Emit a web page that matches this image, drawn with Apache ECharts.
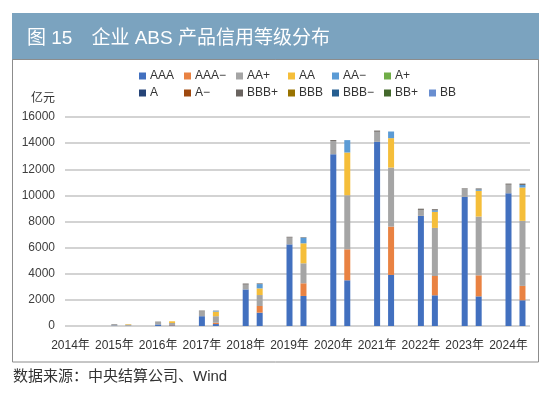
<!DOCTYPE html>
<html><head><meta charset="utf-8">
<script src="https://cdn.jsdelivr.net/npm/echarts@6/dist/echarts.min.js"></script>
<style>html,body{margin:0;padding:0;background:#fff}#c{width:550px;height:395px}</style>
</head><body><div id="c"></div>
<script>
// ---- data ----
const years = ['2014年','2015年','2016年','2017年','2018年','2019年','2020年','2021年','2022年','2023年','2024年'];
const ratings = ['AAA','AAA−','AA+','AA','AA−','A+','A','A−','BBB+','BBB','BBB−','BB+','BB'];
const yMin = 0, yMax = 16000, yStep = 2000;
const unitLabel = '亿元';
const titleText = '图 15　企业 ABS 产品信用等级分布';
const sourceText = '数据来源：中央结算公司、Wind';

// left bar of each year
const aaaL     = [0, 30, 120, 750, 2800, 6250, 13150, 14100, 8430, 9880, 10160];
const aaPlusL  = [0, 120, 200, 370, 370, 520, 1020, 770, 460, 620, 660];
const bbbPlusL = [0, 0, 20, 60, 80, 60, 70, 90, 90, 40, 80];
// right bar of each year
const aaaR     = [0, 20, 50, 150, 1020, 2300, 3500, 3910, 2350, 2270, 1970];
const aaaMinusR= [0, 0, 30, 100, 510, 970, 2370, 3700, 1480, 1610, 1100];
const aaPlusR  = [0, 90, 150, 500, 840, 1530, 4140, 4520, 3680, 4500, 4980];
const aaR      = [0, 40, 130, 350, 510, 1530, 3270, 2250, 1230, 1970, 2550];
const aaMinusR = [0, 0, 0, 60, 330, 430, 950, 510, 120, 100, 200];
const bbbPlusR = [0, 0, 0, 20, 50, 40, 0, 0, 80, 80, 100];
const zeros    = [0, 0, 0, 0, 0, 0, 0, 0, 0, 0, 0];

const leftByRating  = [aaaL, zeros, aaPlusL, zeros, zeros, zeros, zeros, zeros, bbbPlusL, zeros, zeros, zeros, zeros];
const rightByRating = [aaaR, aaaMinusR, aaPlusR, aaR, aaMinusR, zeros, zeros, zeros, bbbPlusR, zeros, zeros, zeros, zeros];

// ---- style ----
const colors = ['#4270BF','#E98242','#A5A5A5','#F5BE3A','#5B9BD5','#70AD47','#264478','#9E480E','#6A6460','#997300','#255E91','#43682B','#698ED0'];
const FONT = "'Liberation Sans','Noto Sans CJK SC',sans-serif";

const chart = echarts.init(document.getElementById('c'), null, {renderer:'canvas'});

const series = [{
  name: '_pad', type: 'bar', stack: 'pad', xAxisIndex: 0, yAxisIndex: 0,
  barWidth: 6, barGap: '133%', data: []
}];
ratings.forEach((r, i) => {
  series.push({
    name: r, type: 'bar', stack: 'left', xAxisIndex: 0, yAxisIndex: 0,
    barWidth: 6, barGap: '133%', itemStyle: {color: colors[i]},
    data: leftByRating[i]
  });
});
ratings.forEach((r, i) => {
  series.push({
    name: r, type: 'bar', stack: 'right', xAxisIndex: 0, yAxisIndex: 0,
    barWidth: 6, barGap: '133%', itemStyle: {color: colors[i]},
    data: rightByRating[i]
  });
});

const legendCols = [['AAA','A'],['AAA−','A−'],['AA+','BBB+'],['AA','BBB'],['AA−','BBB−'],['A+','BB+'],['BB']];
const legendX = [139, 184, 236, 288, 332, 384, 429];
const legends = legendCols.map((col, k) => ({
  orient: 'vertical', left: legendX[k], top: k === 6 ? 87 : 70,
  padding: 0, itemGap: 5, itemWidth: 7, itemHeight: 7, icon: 'rect',
  selectedMode: false,
  textStyle: {fontSize: 12, color: '#333', fontFamily: FONT, lineHeight: 12, padding: [0,0,0,-1]},
  data: col
}));

chart.setOption({
  backgroundColor: '#fff',
  animation: false,
  title: {
    text: titleText, left: 27, top: 29, padding: 0,
    textStyle: {color: '#fff', fontSize: 19, fontWeight: 'normal', fontFamily: FONT}
  },
  legend: legends,
  grid: [
    {left: 48.6, right: 19.6, top: 117, bottom: 69},
    {left: 65, right: 20, top: 117, bottom: 69}
  ],
  xAxis: [
    {type: 'category', gridIndex: 0, data: years, boundaryGap: true,
     axisLine: {show: false}, axisTick: {show: false},
     axisLabel: {fontSize: 12, color: '#333', fontFamily: FONT, margin: 14, interval: 0}},
    {type: 'value', gridIndex: 1, min: 0, max: 1, show: false}
  ],
  yAxis: [
    {type: 'value', gridIndex: 0, min: yMin, max: yMax, interval: yStep, show: false},
    {type: 'value', gridIndex: 1, min: yMin, max: yMax, interval: yStep,
     axisLine: {show: false}, axisTick: {show: false},
     axisLabel: {fontSize: 12, color: '#404040', fontFamily: FONT, margin: 10, formatter: v => String(v)},
     splitLine: {lineStyle: {color: '#d3d3d3', width: 2}}}
  ],
  graphic: [
    {type: 'rect', z: -10, shape: {x: 12, y: 13, width: 527, height: 47}, style: {fill: '#7BA3BF'}},
    {type: 'rect', z: -10, shape: {x: 12.5, y: 59.5, width: 526, height: 302.5}, style: {fill: 'none', stroke: '#8c8c8c', lineWidth: 1}},
    {type: 'text', x: 55, y: 99, style: {text: unitLabel, align: 'right', verticalAlign: 'middle', fill: '#333', font: "12px 'Liberation Sans','Noto Sans CJK SC',sans-serif"}},
    {type: 'text', x: 13, y: 377, style: {text: sourceText, align: 'left', verticalAlign: 'middle', fill: '#333', font: "15px 'Liberation Sans','Noto Sans CJK SC',sans-serif"}}
  ],
  series: series
});
</script></body></html>
